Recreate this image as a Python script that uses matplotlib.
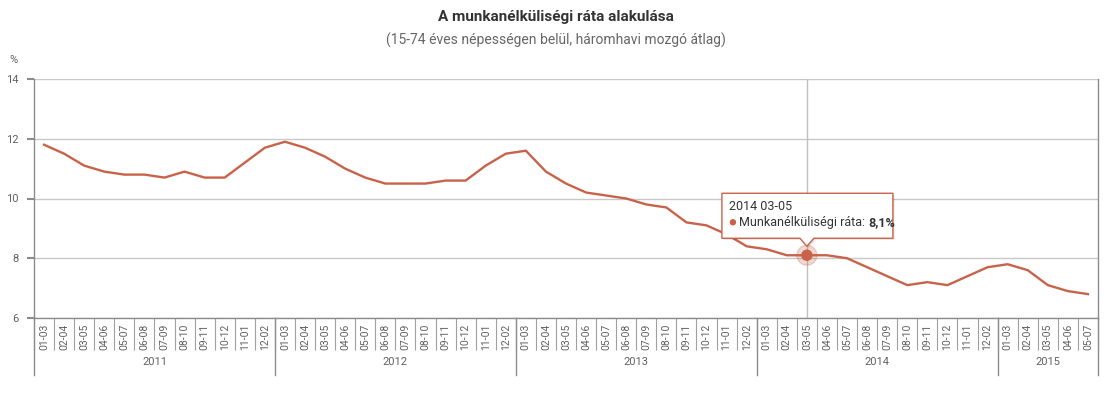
import numpy as np
import matplotlib.pyplot as plt
import matplotlib.transforms as mtransforms
from matplotlib.patches import Polygon, Circle

plt.rcParams['font.family'] = ['Roboto', 'DejaVu Sans']

# data: unemployment rate, 3-month moving average
years = ["2011", "2012", "2013", "2014", "2015"]
periods = ["01-03", "02-04", "03-05", "04-06", "05-07", "06-08",
           "07-09", "08-10", "09-11", "10-12", "11-01", "12-02"]
months_per_year = [12, 12, 12, 12, 5]
rate = [11.8, 11.5, 11.1, 10.9, 10.8, 10.8, 10.7, 10.9, 10.7, 10.7, 11.2, 11.7,
        11.9, 11.7, 11.4, 11.0, 10.7, 10.5, 10.5, 10.5, 10.6, 10.6, 11.1, 11.5,
        11.6, 10.9, 10.5, 10.2, 10.1, 10.0, 9.8, 9.7, 9.2, 9.1, 8.8, 8.4,
        8.3, 8.1, 8.1, 8.1, 8.0, 7.7, 7.4, 7.1, 7.2, 7.1, 7.4, 7.7,
        7.8, 7.6, 7.1, 6.9, 6.8]
hover_idx = 38  # 2014 03-05

line_color = "#c8634a"
axis_color = "#8c8c8c"

labels = []
for n in months_per_year:
    labels += periods[:n]
x = np.arange(len(rate))

W, H = 1111, 399
fig = plt.figure(figsize=(W / 100, H / 100), dpi=100)
ax = fig.add_axes([34 / W, 1 - 318 / H, (1098 - 34) / W, (318 - 79) / H])

ax.plot(x, rate, color=line_color, lw=1.7, zorder=3, solid_joinstyle="round")
ax.set_xlim(-0.5, len(rate) - 0.5)
ax.set_ylim(6, 14)
ax.set_yticks([6, 8, 10, 12, 14])
ax.yaxis.grid(True, color="#c8c8c8", lw=1)
ax.set_axisbelow(True)

for s in ["left", "bottom", "right"]:
    ax.spines[s].set_color(axis_color)
    ax.spines[s].set_linewidth(1)
ax.spines["top"].set_visible(False)
ax.tick_params(axis="y", colors=axis_color, length=5, width=1.5,
               labelsize=8, labelcolor="#606060", pad=6)

# category labels + separators
ax.set_xticks(x)
ax.set_xticklabels(labels, rotation=90, fontsize=7.5, color="#606060")
ax.tick_params(axis="x", which="major", length=0, pad=4)
ax.set_xticks(np.arange(len(rate) + 1) - 0.5, minor=True)
ax.tick_params(axis="x", which="minor", length=23, width=0.8, color="#a0a0a0")

# year grouping
blend = mtransforms.blended_transform_factory(ax.transData, ax.transAxes)
edges = np.concatenate([[0], np.cumsum(months_per_year)]) - 0.5
for e in edges:
    ax.plot([e, e], [0, -57 / 239], transform=blend, color=axis_color,
            lw=1, clip_on=False)
for i, yr in enumerate(years):
    ax.text((edges[i] + edges[i + 1]) / 2, -44 / 239, yr, transform=blend,
            ha="center", va="center", fontsize=8, color="#606060")

# crosshair
ax.axvline(hover_idx, color="#c0c0c0", lw=1, zorder=2)

fig.text(0.5, 1 - 17 / H, "A munkanélküliségi ráta alakulása", ha="center",
         va="center", fontsize=11, weight="bold", color="#333333")
fig.text(0.5, 1 - 40 / H, "(15-74 éves népességen belül, háromhavi mozgó átlag)",
         ha="center", va="center", fontsize=10, color="#666666")
fig.text(9 / W, 1 - 60 / H, "%", ha="left", va="center", fontsize=8,
         color="#606060")

# tooltip (drawn in pixel coordinates around the hovered point)
fig.canvas.draw()
px, py = ax.transData.transform((hover_idx, rate[hover_idx]))
ident = mtransforms.IdentityTransform()

halo = Circle((px, py), 10, transform=ident, color=line_color, alpha=0.25,
              zorder=5, clip_on=False)
dot = Circle((px, py), 5, transform=ident, color=line_color, zorder=6,
             clip_on=False)
fig.add_artist(halo)
fig.add_artist(dot)

l, r, b, t = px - 85, px + 86, py + 17, py + 62
tip = [(l, b), (px - 7, b), (px, b - 8), (px + 7, b), (r, b), (r, t), (l, t)]
shadow = Polygon([(a + 1.5, c - 1.5) for a, c in tip], closed=True,
                 transform=ident, fc="#000000", alpha=0.12, ec="none", zorder=7)
box = Polygon(tip, closed=True, transform=ident, fc="white", ec=line_color,
              lw=1, zorder=8)
fig.add_artist(shadow)
fig.add_artist(box)

fig.text((px - 78) / W, (py + 49) / H, f"{years[3]} {labels[hover_idx]}",
         ha="left", va="center", fontsize=9, color="#333333", zorder=9)
fig.add_artist(Circle((px - 74, py + 33), 2.5, transform=ident,
                      color=line_color, zorder=9))
t1 = fig.text((px - 68) / W, (py + 33) / H, "Munkanélküliségi ráta: ",
              ha="left", va="center", fontsize=9, color="#333333", zorder=9)
fig.canvas.draw()
bb = t1.get_window_extent()
fig.text(bb.x1 / W, (py + 33) / H,
         f"{rate[hover_idx]:.1f}%".replace(".", ","),
         ha="left", va="center", fontsize=9, weight="bold", color="#333333",
         zorder=9)

fig.savefig("out.png", dpi=100)
